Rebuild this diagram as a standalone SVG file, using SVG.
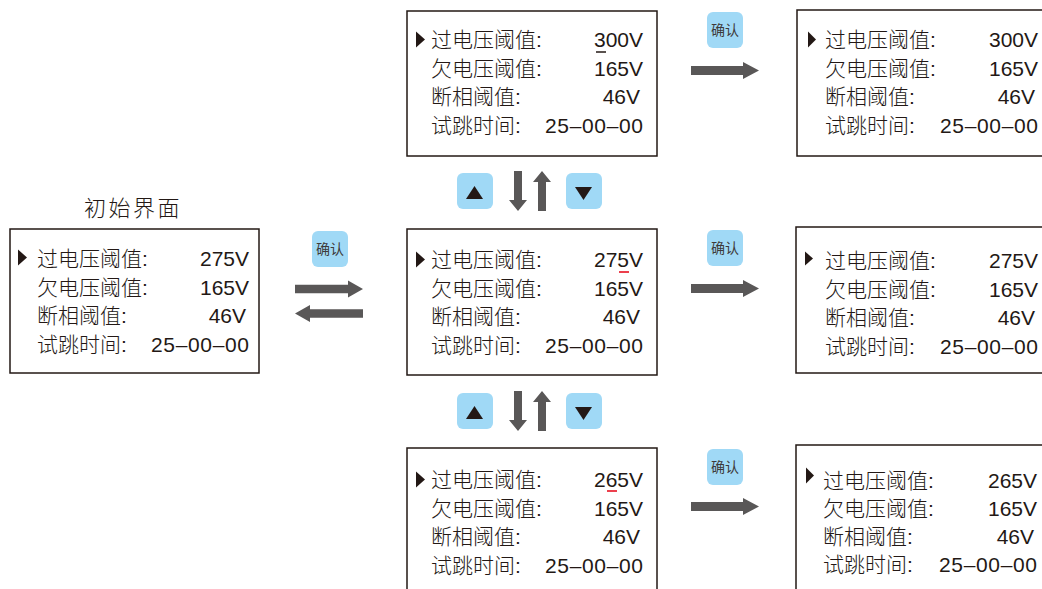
<svg xmlns="http://www.w3.org/2000/svg" width="1042" height="589" viewBox="0 0 1042 589">
<style>
.box{fill:#fff;stroke:#231815;stroke-width:1.5}
.t{font-family:"Liberation Sans","Noto Sans CJK SC",sans-serif;font-size:21px;font-weight:300;fill:#231815}
.v{text-anchor:end}
.sel{fill:#231815}
.btn{fill:#a0d9f6}
.bt{font-family:"Liberation Sans","Noto Sans CJK SC",sans-serif;font-size:14px;fill:#3e3a39;text-anchor:middle}
.arr{fill:#595757}
.tri{fill:#231815}
.title{font-family:"Liberation Sans","Noto Sans CJK SC",sans-serif;font-size:22px;font-weight:300;fill:#231815;text-anchor:middle;letter-spacing:2.5px}
</style>
<defs>
<path id="rarr" d="M0,-4.5 H52 V-8.5 L68,0 L52,8.5 V4.5 H0 Z"/>
<path id="sarr" d="M0,-4.2 H53 V-8.5 L68,0 L53,8.5 V4.2 H0 Z"/>
<g id="ok"><rect x="0" y="0" width="36" height="36" rx="6" class="btn"/><text x="18" y="23" class="bt">确认</text></g>
<g id="updown">
<rect x="457" y="173" width="36" height="36" rx="6" class="btn"/>
<polygon points="466,199 483,199 474.5,186" class="tri"/>
<rect x="566" y="173" width="36" height="36" rx="6" class="btn"/>
<polygon points="575,187 592,187 583.5,200" class="tri"/>
<path class="arr" d="M514,171 H522 V200 H527 L518,211 L509,200 H514 Z"/>
<path class="arr" d="M542,171 L551,182 H546 V211 H538 V182 H533 Z"/>
</g>
</defs>

<g id="init">
<text x="133" y="216" class="title">初始界面</text>
<rect x="10" y="229" width="249" height="144" class="box"/>
<polygon points="18,249.5 27,257.5 18,265.5" class="sel"/>
<text class="t" x="37" y="266">过电压阈值:</text><text class="t v" x="249" y="266">275V</text>
<text class="t" x="37" y="295">欠电压阈值:</text><text class="t v" x="249" y="295">165V</text>
<text class="t" x="37" y="323">断相阈值:</text><text class="t v" x="246" y="323">46V</text>
<text class="t" x="37" y="352">试跳时间:</text><text class="t" x="151" y="352" textLength="98" lengthAdjust="spacing">25–00–00</text>
</g>

<g id="edit300">
<rect x="407" y="11" width="250" height="145" class="box"/>
<polygon points="416,31.5 425,39.5 416,47.5" class="sel"/>
<text class="t" x="431" y="47">过电压阈值:</text><text class="t v" x="643" y="47">300V</text>
<line x1="596" y1="52" x2="606" y2="52" stroke="#231815" stroke-width="1.5"/>
<text class="t" x="431" y="76">欠电压阈值:</text><text class="t v" x="643" y="76">165V</text>
<text class="t" x="431" y="104">断相阈值:</text><text class="t v" x="640" y="104">46V</text>
<text class="t" x="431" y="133">试跳时间:</text><text class="t" x="545" y="133" textLength="98" lengthAdjust="spacing">25–00–00</text>
</g>

<g id="edit275">
<rect x="407" y="229" width="250" height="146" class="box"/>
<polygon points="416,251.5 425,259.5 416,267.5" class="sel"/>
<text class="t" x="431" y="267">过电压阈值:</text><text class="t v" x="643" y="267">275V</text>
<line x1="619" y1="272" x2="629" y2="272" stroke="#e60012" stroke-width="1.5"/>
<text class="t" x="431" y="296">欠电压阈值:</text><text class="t v" x="643" y="296">165V</text>
<text class="t" x="431" y="324">断相阈值:</text><text class="t v" x="640" y="324">46V</text>
<text class="t" x="431" y="353">试跳时间:</text><text class="t" x="545" y="353" textLength="98" lengthAdjust="spacing">25–00–00</text>
</g>

<g id="edit265">
<rect x="407" y="448" width="250" height="160" class="box"/>
<polygon points="416,471.5 425,479.5 416,487.5" class="sel"/>
<text class="t" x="431" y="487">过电压阈值:</text><text class="t v" x="643" y="487">265V</text>
<line x1="607" y1="491" x2="617" y2="491" stroke="#e60012" stroke-width="1.5"/>
<text class="t" x="431" y="516">欠电压阈值:</text><text class="t v" x="643" y="516">165V</text>
<text class="t" x="431" y="544">断相阈值:</text><text class="t v" x="640" y="544">46V</text>
<text class="t" x="431" y="573">试跳时间:</text><text class="t" x="545" y="573" textLength="98" lengthAdjust="spacing">25–00–00</text>
</g>

<g id="saved300">
<rect x="797" y="10" width="260" height="146" class="box"/>
<polygon points="808,31.5 816,39.5 808,47.5" class="sel"/>
<text class="t" x="825" y="47">过电压阈值:</text><text class="t v" x="1038" y="47">300V</text>
<text class="t" x="825" y="76">欠电压阈值:</text><text class="t v" x="1038" y="76">165V</text>
<text class="t" x="825" y="104">断相阈值:</text><text class="t v" x="1035" y="104">46V</text>
<text class="t" x="825" y="133">试跳时间:</text><text class="t" x="940" y="133" textLength="98" lengthAdjust="spacing">25–00–00</text>
</g>

<g id="saved275">
<rect x="796" y="227" width="260" height="146" class="box"/>
<polygon points="805,251.5 813,258.5 805,265.5" class="sel"/>
<text class="t" x="825" y="268">过电压阈值:</text><text class="t v" x="1038" y="268">275V</text>
<text class="t" x="825" y="297">欠电压阈值:</text><text class="t v" x="1038" y="297">165V</text>
<text class="t" x="825" y="325">断相阈值:</text><text class="t v" x="1035" y="325">46V</text>
<text class="t" x="825" y="354">试跳时间:</text><text class="t" x="940" y="354" textLength="98" lengthAdjust="spacing">25–00–00</text>
</g>

<g id="saved265">
<rect x="796" y="445" width="260" height="160" class="box"/>
<polygon points="806,467.5 814,475.5 806,483.5" class="sel"/>
<text class="t" x="823" y="488">过电压阈值:</text><text class="t v" x="1037" y="488">265V</text>
<text class="t" x="823" y="516">欠电压阈值:</text><text class="t v" x="1037" y="516">165V</text>
<text class="t" x="823" y="544">断相阈值:</text><text class="t v" x="1034" y="544">46V</text>
<text class="t" x="823" y="572">试跳时间:</text><text class="t" x="939" y="572" textLength="98" lengthAdjust="spacing">25–00–00</text>
</g>

<g id="buttons">
<use href="#ok" x="312" y="231"/>
<use href="#ok" x="707" y="12"/>
<use href="#ok" x="707" y="230"/>
<use href="#ok" x="707" y="449"/>
<use href="#updown"/>
<use href="#updown" y="220"/>
</g>

<g id="connectors">
<use href="#sarr" class="arr" transform="translate(295,289)"/>
<use href="#sarr" class="arr" transform="translate(363,313.5) scale(-1,1)"/>
<use href="#rarr" class="arr" transform="translate(691,70.5)"/>
<use href="#rarr" class="arr" transform="translate(691,288.5)"/>
<use href="#rarr" class="arr" transform="translate(691,506.5)"/>
</g>
</svg>
